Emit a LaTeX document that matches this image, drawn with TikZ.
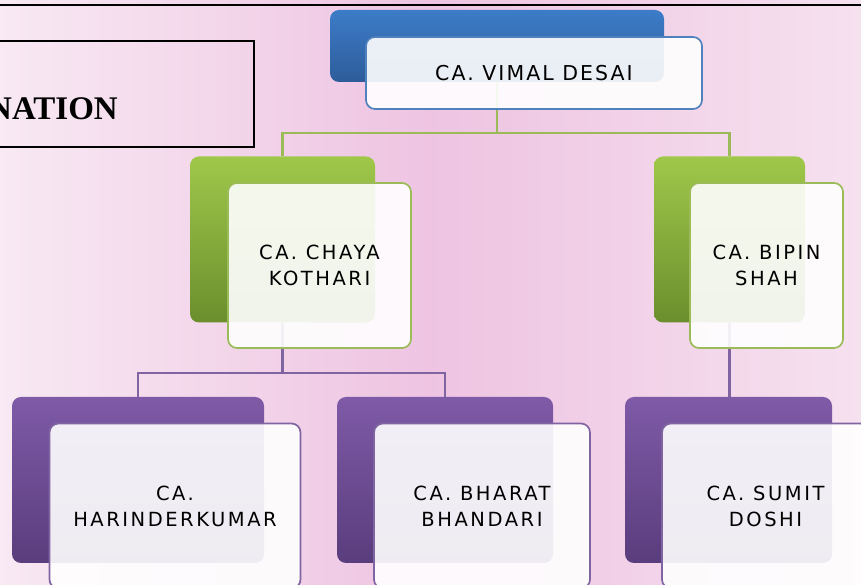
\documentclass[tikz,border=0pt]{standalone}
\usepackage{fontspec}
\newfontfamily\boxfont{DejaVu Sans}[LetterSpace=13]
\newfontfamily\topfont{DejaVu Sans}[LetterSpace=10]
\newfontfamily\headfont{Liberation Serif}
\usetikzlibrary{positioning}
\definecolor{bgl}{HTML}{F8E9F3}
\definecolor{bgm}{HTML}{EEC4E2}
\definecolor{bgr}{HTML}{F6E1EF}
\definecolor{bluetop}{HTML}{3C7CC8}
\definecolor{bluebot}{HTML}{2E5C9A}
\definecolor{blueline}{HTML}{4F81BD}
\definecolor{greentop}{HTML}{9FC84A}
\definecolor{greenbot}{HTML}{6B8E2D}
\definecolor{greenline}{HTML}{9BBB59}
\definecolor{purptop}{HTML}{7F5AA7}
\definecolor{purpbot}{HTML}{5A3D7D}
\definecolor{purpline}{HTML}{8064A2}
\begin{document}
\begin{tikzpicture}[
    x=1pt,y=1pt,node distance=37pt,
    every node/.style={inner sep=0pt,align=center,text=black},
    back/.style={top color=#1top,bottom color=#1bot,rounded corners=9pt,minimum height=166pt},
    front/.style={draw=#1line,line width=1.7pt,rounded corners=9pt,fill=white,fill opacity=.9,text opacity=1,minimum height=165pt,font=\boxfont\fontsize{19.5}{26}\selectfont},
    gline/.style={draw=greenline,line width=2.4pt},
    pline/.style={draw=purpline,line width=2.4pt}
    ]
    \useasboundingbox (0,0) rectangle (861,585);
    \clip (0,0) rectangle (861,585);
    \fill[left color=bgl,right color=bgr,middle color=bgm] (0,0) rectangle (861,585);
    \draw[line width=1.5pt] (0,580) -- (861,580);
    \draw[line width=1.2pt] (-10,438) rectangle (254,544);
    \node[anchor=base east,font=\headfont\bfseries\fontsize{33}{40}\selectfont] (title) at (118,465) {NATION};

    \node[back=blue,minimum width=334pt,minimum height=72pt] (vimal) at (497,539) {};
    \node[back=green,minimum width=185pt] (chaya) at (282.5,345.5) {};
    \node[back=green,minimum width=151pt] (bipin) at (729.5,345.5) {};
    \node[back=purp,minimum width=252pt] (harinder) at (138,105) {};
    \node[back=purp,minimum width=216pt] (bharat) at (445,105) {};
    \node[back=purp,minimum width=207pt] (sumit) at (728.5,105) {};

    \draw[gline] (vimal.south) -- ++(0,-51) -| (chaya.north);
    \draw[gline] (vimal.south) -- ++(0,-51) -| (bipin.north);
    \draw[pline] (chaya.south) -- ++(0,-50.5) -| (harinder.north);
    \draw[pline] (chaya.south) -- ++(0,-50.5) -| (bharat.north);
    \draw[pline] (bipin.south) -- (bipin.south |- sumit.north);

    \node[front=blue,right of=vimal,yshift=-27pt,minimum width=336pt,minimum height=72pt,font=\topfont\fontsize{20.5}{24}\selectfont] (vimaltxt) {CA. VIMAL DESAI};
    \node[front=green,right of=chaya,yshift=-26pt,minimum width=183pt] (chayatxt) {CA. CHAYA\\KOTHARI};
    \node[front=green,right of=bipin,yshift=-26pt,minimum width=153pt] (bipintxt) {CA. BIPIN\\SHAH};
    \node[front=purp,right of=harinder,yshift=-26pt,minimum width=251pt] (harindertxt) {CA.\\HARINDERKUMAR};
    \node[front=purp,right of=bharat,yshift=-26pt,minimum width=216pt] (bharattxt) {CA. BHARAT\\BHANDARI};
    \node[front=purp,right of=sumit,yshift=-26pt,minimum width=207pt] (sumittxt) {CA. SUMIT\\DOSHI};
  \end{tikzpicture}
\end{document}
